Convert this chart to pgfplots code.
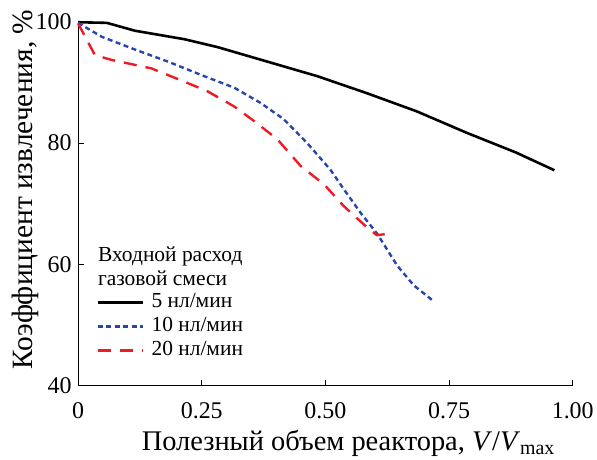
\documentclass[border=0pt]{standalone}
\usepackage{fontspec}
\setmainfont{Liberation Serif}
\usepackage{pgfplots}
\pgfplotsset{compat=1.18}
\definecolor{cblue}{RGB}{40,70,170}
\definecolor{cred}{RGB}{237,28,36}
\begin{document}
\begin{tikzpicture}
\begin{axis}[
  scale only axis, width=496pt, height=365pt,
  xmin=0, xmax=1, ymin=40, ymax=100,
  axis lines=left, axis line style={-, line width=1pt},
  tick align=inside, major tick length=6pt, tick style={line width=0.8pt, black},
  xtick={0,0.25,0.5,0.75,1}, xticklabels={0,0.25,0.50,0.75,1.00},
  ytick={40,60,80,100}, yticklabels={40,60,80,100},
  ticklabel style={font=\rmfamily\fontsize{24}{28}\selectfont},
  xticklabel style={yshift=-13pt},
  yticklabel style={xshift=-3pt},
  label style={font=\rmfamily\fontsize{29.5}{32}\selectfont},
  xlabel={Полезный объем реактора, \textit{V}/\textit{V}\textsubscript{max}},
  ylabel={Коэффициент извлечения, \%},
  xlabel style={yshift=-5pt, xshift=23pt, font=\rmfamily\fontsize{28.5}{32}\selectfont},
  ylabel style={yshift=-9.5pt, xshift=14pt},
  legend style={draw=none, fill=none, at={(rel axis cs:0.037,0.262)}, anchor=north west,
    font=\rmfamily\fontsize{21.5}{24}\selectfont, row sep=0pt, inner sep=0pt,
    nodes={inner sep=1.5pt, text height=16pt, text depth=5pt},
    /tikz/every odd column/.append style={column sep=6pt}},
  legend cell align=left,
  legend image code/.code={\draw[#1] (0pt,0pt) -- (45pt,0pt);},
  clip=false,
]
\addplot[black, line width=2.6pt] coordinates {
(0,99.9)(0.058,99.8)(0.115,98.5)(0.215,97.1)(0.282,95.8)(0.383,93.4)(0.484,91.0)
(0.584,88.2)(0.685,85.2)(0.785,81.7)(0.886,78.4)(0.963,75.5)};
\addlegendentry{5 нл/мин}
\addplot[cblue, line width=2.4pt, dash pattern=on 5pt off 3.5pt] coordinates {
(0,99.8)(0.048,97.5)(0.115,95.4)(0.182,93.4)(0.249,91.2)(0.316,89.1)(0.369,86.6)
(0.416,83.9)(0.463,80.0)(0.510,75.6)(0.537,72.4)(0.571,68.5)(0.605,65.0)(0.645,59.8)
(0.679,56.5)(0.719,53.9)};
\addlegendentry{10 нл/мин}
\addplot[cred, line width=2.4pt, dash pattern=on 13pt off 9pt] coordinates {
(0,99.7)(0.034,94.5)(0.067,93.7)(0.148,92.3)(0.215,90.1)(0.262,88.5)(0.316,86.0)
(0.356,83.6)(0.403,80.6)(0.450,76.2)(0.497,73.2)(0.537,69.6)(0.584,66.1)(0.604,64.8)(0.624,65.0)};
\addlegendentry{20 нл/мин}
\node[anchor=base west, font=\rmfamily\fontsize{21.5}{24}\selectfont, inner sep=0pt]
  at (axis cs:0.04,60.4) {Входной расход};
\node[anchor=base west, font=\rmfamily\fontsize{21.5}{24}\selectfont, inner sep=0pt]
  at (axis cs:0.04,56.45) {газовой смеси};
\path (rel axis cs:0,1) ++(-78.3pt,21.7pt);
\end{axis}
\end{tikzpicture}
\end{document}
